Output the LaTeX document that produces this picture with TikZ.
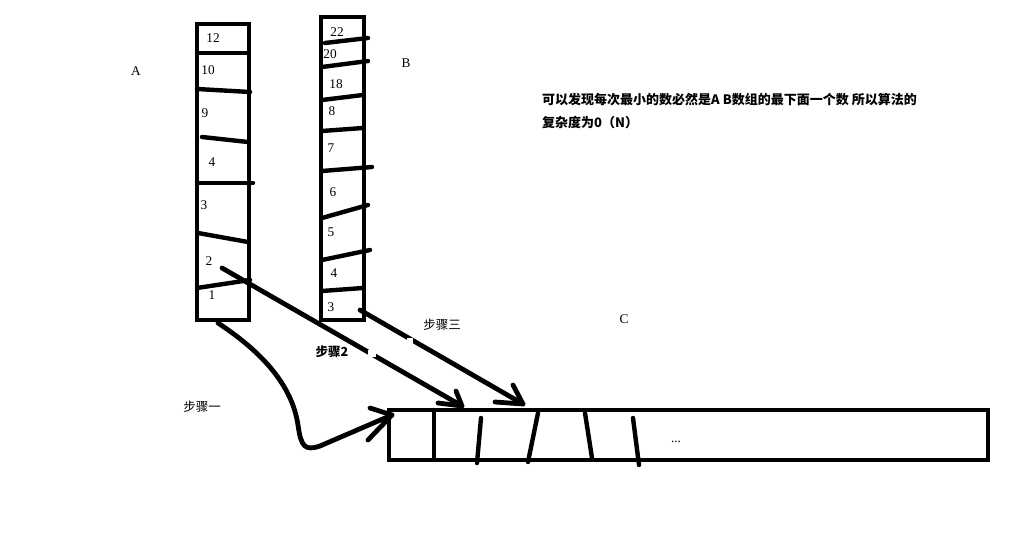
\documentclass[tikz,border=0pt]{standalone}
\usepackage{fontspec}
\setmainfont{Liberation Serif}
\newfontfamily\cjk{Noto Sans CJK SC}
\begin{document}
\begin{tikzpicture}[x=1pt,y=-1pt,
  box/.style={draw, line width=4.8pt, inner sep=0pt, outer sep=0pt},
  divider/.style={line width=4.4pt, line cap=round},
  conn/.style={line width=4.8pt, line cap=round, line join=round},
  num/.style={font=\fontsize{13.3}{15}\selectfont, inner sep=0pt},
  zh/.style={font=\cjk\fontsize{12.5}{14}\selectfont, inner sep=0pt},
  note/.style={font=\cjk\bfseries\fontsize{13}{15}\selectfont, inner sep=0pt, anchor=west}]
\useasboundingbox (0,0) rectangle (1031,534);
\fill[white] (0,0) rectangle (1031,534);

% arrays
\node[box, minimum width=52pt, minimum height=296pt] (A) at (223,172) {};
\node[box, minimum width=43pt, minimum height=303pt] (B) at (342.5,168.5) {};
\node[box, minimum width=599pt, minimum height=50pt] (C) at (688.5,435) {};

% A dividers
\draw[divider] (197,53) -- (249,53);
\draw[divider] (197,89) -- (250,92);
\draw[divider] (202,137) -- (248,142);
\draw[divider] (197,183) -- (253,183);
\draw[divider] (198,233) -- (248,242);
\draw[divider] (197,288) -- (250,280);

% B dividers
\draw[divider] (325,43) -- (368,38);
\draw[divider] (322,67) -- (368,61);
\draw[divider] (322,100) -- (363,95);
\draw[divider] (322,131) -- (363,128);
\draw[divider] (322,171) -- (372,167);
\draw[divider] (322,218) -- (368,205);
\draw[divider] (322,260) -- (370,250);
\draw[divider] (322,291) -- (363,288);

% C dividers
\draw[divider] (434,410) -- (434,460);
\draw[divider] (481,418) -- (477,463);
\draw[divider] (538,413) -- (528,462);
\draw[divider] (585,413) -- (592,458);
\draw[divider] (633,418) -- (639,465);

% A numbers
\node[num] (a12) at (213,38) {12};
\node[num] (a10) at (208,70) {10};
\node[num] (a9) at (205,113) {9};
\node[num] (a4) at (212,162) {4};
\node[num] (a3) at (204,205) {3};
\node[num] (a2) at (209,261) {2};
\node[num] (a1) at (212,295) {1};

% B numbers
\node[num] (b22) at (337,32) {22};
\node[num] (b20) at (330,54) {20};
\node[num] (b18) at (336,84) {18};
\node[num] (b8) at (332,111) {8};
\node[num] (b7) at (331,148) {7};
\node[num] (b6) at (333,192) {6};
\node[num] (b5) at (331,232) {5};
\node[num] (b4) at (334,273) {4};
\node[num] (b3) at (331,307) {3};

% labels
\node[num] (labA) at (136,71) {A};
\node[num] (labB) at (406,63) {B};
\node[num] (labC) at (624,319) {C};
\node[num] (dots) at (676,442) {...};

% note
\node[note] (note1) at (542,100) {可以发现每次最小的数必然是A B数组的最下面一个数 所以算法的};
\node[note] (note2) at (542,123) {复杂度为0（N）};

% connectors
\coordinate (s1) at (218,323);
\coordinate (t1) at (392,415);
\coordinate (s2) at (222,268);
\coordinate (t2) at (462,406);
\coordinate (s3) at (360,310);
\coordinate (t3) at (523,404);

\draw[conn] (s1) .. controls (262,352) and (292,385) .. (298,425)
  .. controls (301,447) and (305,451) .. (320,446) -- (t1);
\draw[conn] (370,408) -- (t1) -- (368,440);

\draw[conn] (s2) -- (t2);
\draw[conn] (438,403) -- (t2) -- (456,391);

\draw[conn] (s3) -- (t3);
\draw[conn] (495,402) -- (t3) -- (513,385);

% small erased gaps
\fill[white] (368,350) rectangle (376,357);
\fill[white] (395,339) rectangle (400,344);
\fill[white] (407,338) rectangle (413,344);

% step labels
\node[zh] (step1) at (202,407) {步骤一};
\node[zh, font=\cjk\bfseries\fontsize{12.5}{14}\selectfont] (step2) at (332,352) {步骤2};
\node[zh] (step3) at (442,325) {步骤三};
\end{tikzpicture}
\end{document}
